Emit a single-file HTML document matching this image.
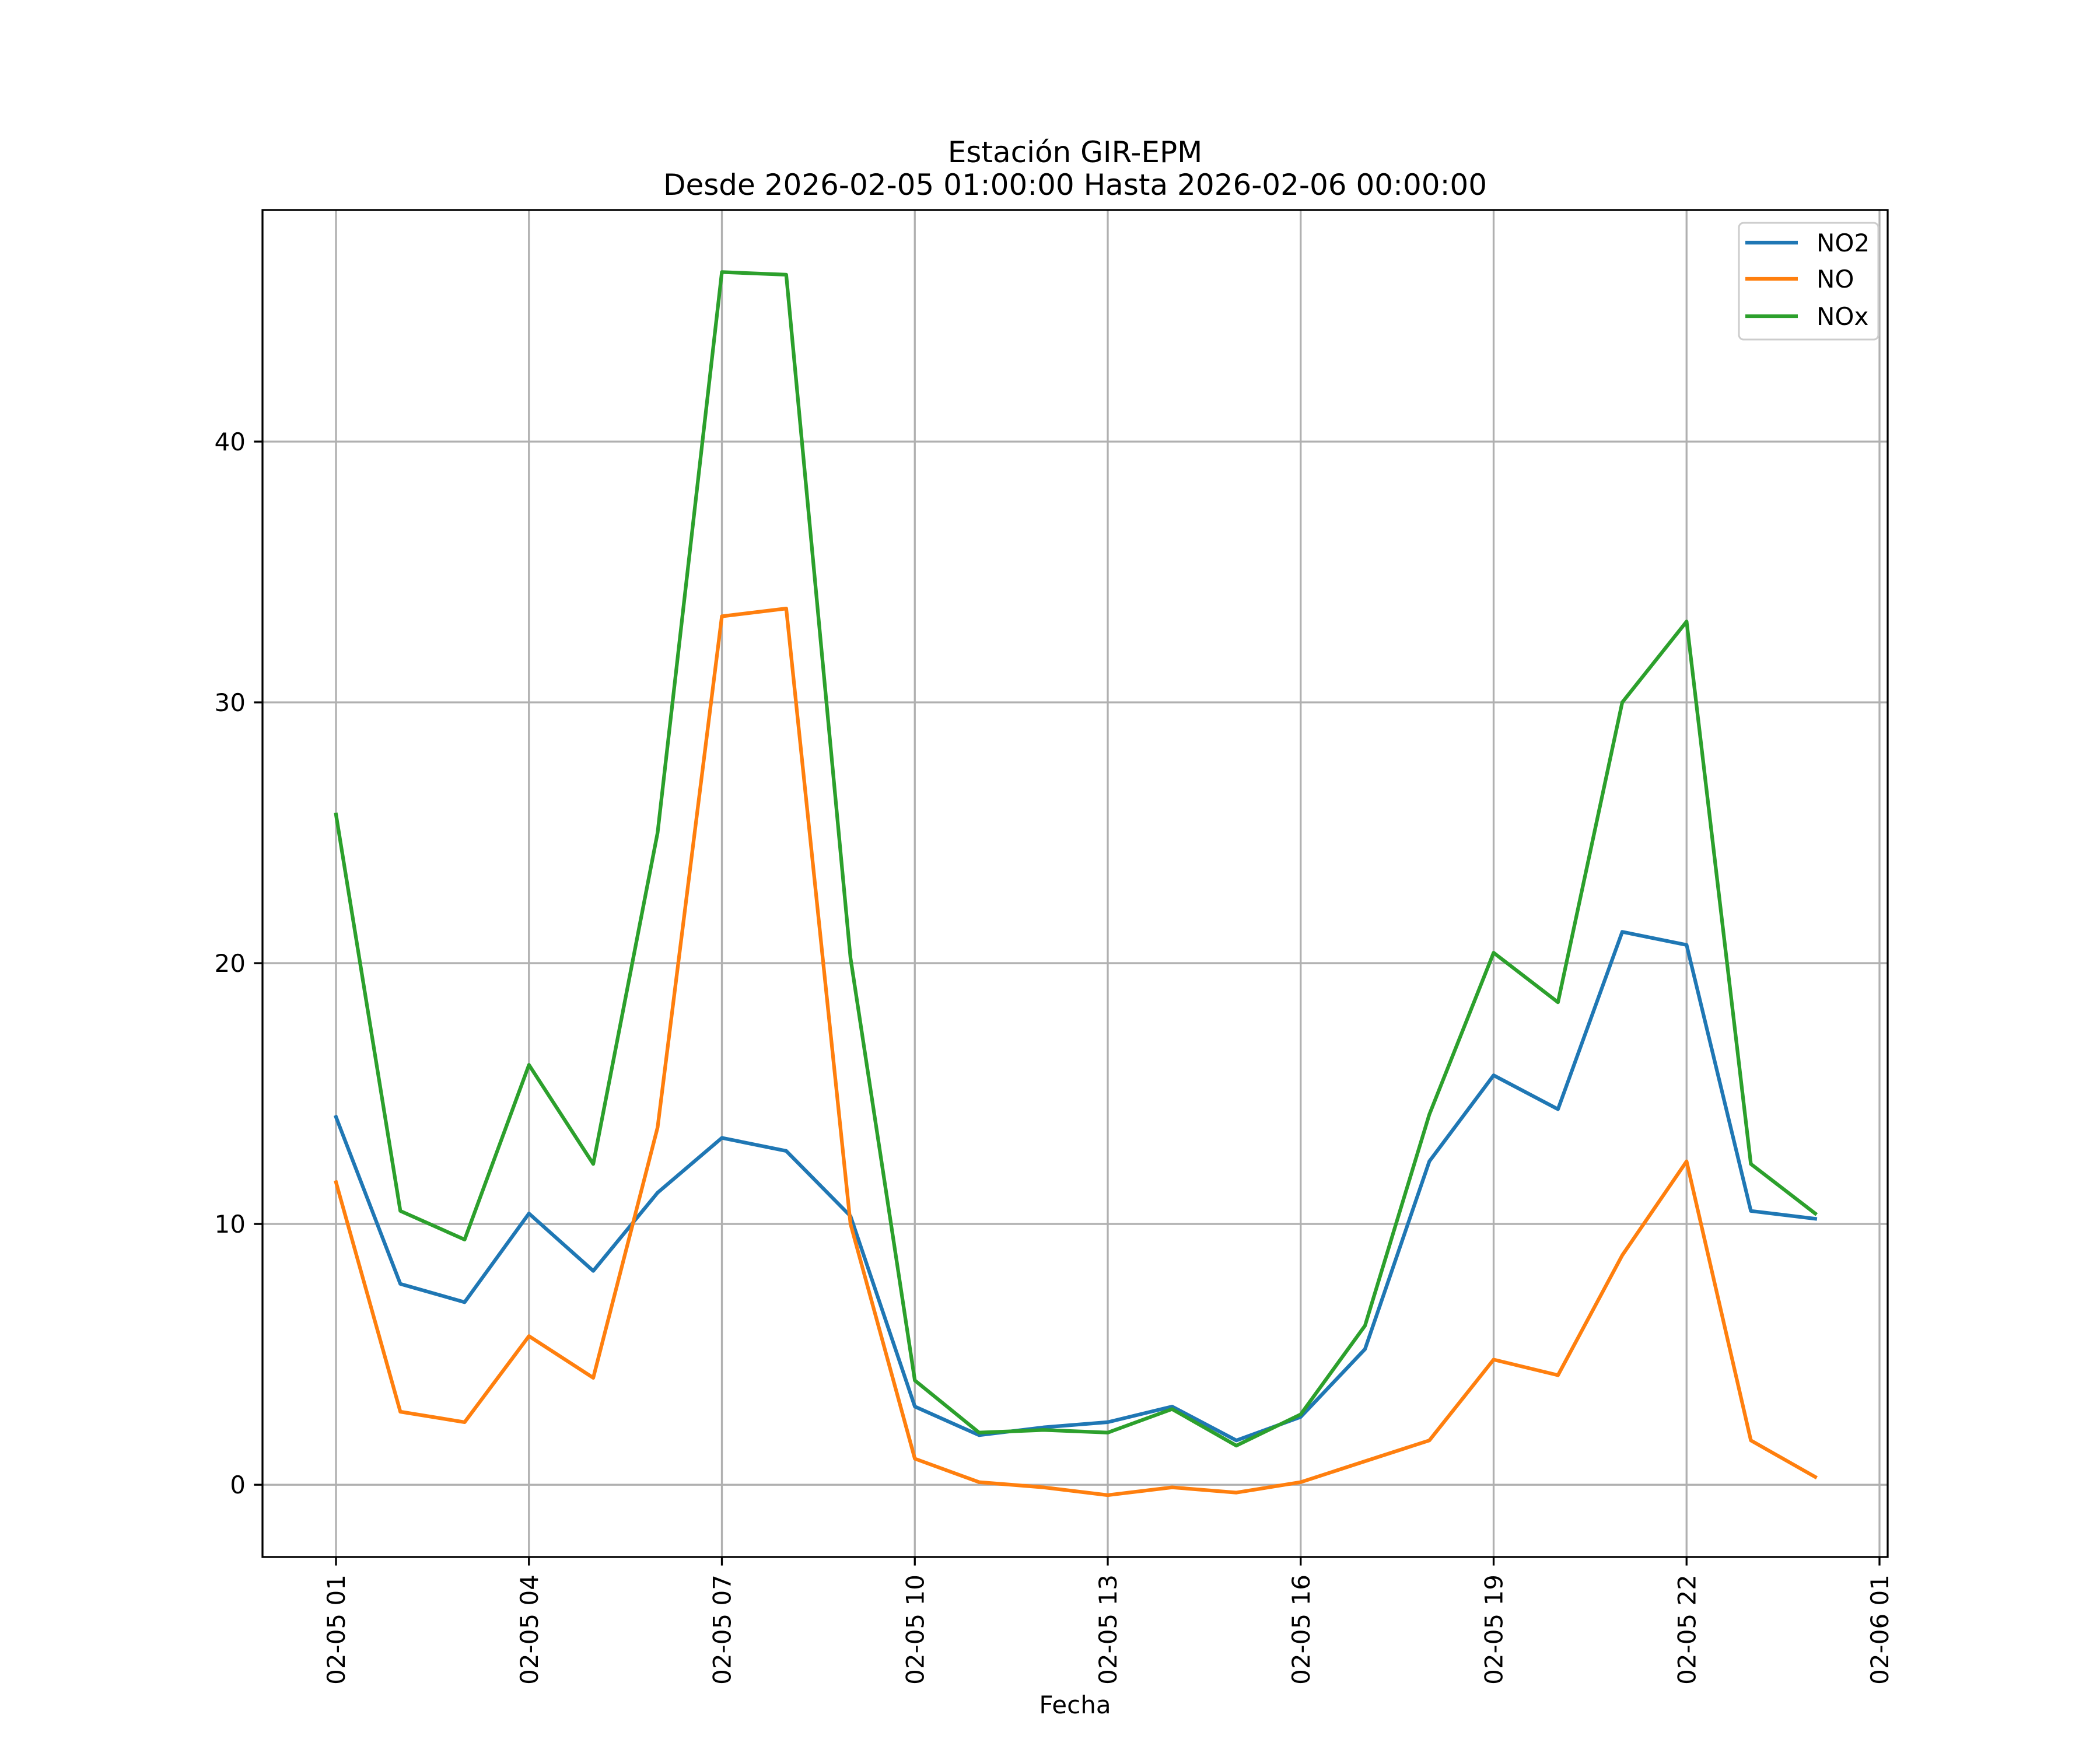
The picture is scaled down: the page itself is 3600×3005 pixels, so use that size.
<!DOCTYPE html>
<html><head><meta charset="utf-8"><style>
html,body{margin:0;padding:0;background:#fff}
svg text{font-family:"DejaVu Sans","Liberation Sans",sans-serif;fill:#000}
</style></head><body>
<svg id="chart" width="3600" height="3000" viewBox="0 0 3600 3000" xmlns="http://www.w3.org/2000/svg">
<rect width="3600" height="3000" fill="#fff"/>
<text x="1843" y="278" font-size="50" text-anchor="middle">Estación GIR-EPM</text>
<text x="1843" y="334" font-size="50" text-anchor="middle">Desde 2026-02-05 01:00:00 Hasta 2026-02-06 00:00:00</text>
<g id="grid"></g>
<g id="series"></g>
<g id="axes"></g>
<text x="1843" y="2937" font-size="42" text-anchor="middle">Fecha</text>
<g>
<rect x="2981" y="382" width="239" height="200" rx="8" fill="#fff" fill-opacity="0.8" stroke="#ccc" stroke-width="3"/>
<line x1="2992" y1="416" x2="3082" y2="416" stroke="#1f77b4" stroke-width="6.25"/>
<text x="3114" y="431" font-size="42">NO2</text>
<line x1="2992" y1="478" x2="3082" y2="478" stroke="#ff7f0e" stroke-width="6.25"/>
<text x="3114" y="493" font-size="42">NO</text>
<line x1="2992" y1="542" x2="3082" y2="542" stroke="#2ca02c" stroke-width="6.25"/>
<text x="3114" y="557" font-size="42">NOx</text>
</g>
</svg>
<script>
const hours = [0,1,2,3,4,5,6,7,8,9,10,11,12,13,14,15,16,17,18,19,20,21,22,23];
const no2 = [14.1,7.7,7.0,10.4,8.2,11.2,13.3,12.8,10.3,3.0,1.9,2.2,2.4,3.0,1.7,2.6,5.2,12.4,15.7,14.4,21.2,20.7,10.5,10.2];
const no = [11.6,2.8,2.4,5.7,4.1,13.7,33.3,33.6,10.0,1.0,0.1,-0.1,-0.4,-0.1,-0.3,0.1,0.9,1.7,4.8,4.2,8.8,12.4,1.7,0.3];
const nox = [25.7,10.5,9.4,16.1,12.3,25.0,46.5,46.4,20.2,4.0,2.0,2.1,2.0,2.9,1.5,2.7,6.1,14.2,20.4,18.5,30.0,33.1,12.3,10.4];
const xTickHours = [0,3,6,9,12,15,18,21,24];
const xTickLabels = ["02-05 01","02-05 04","02-05 07","02-05 10","02-05 13","02-05 16","02-05 19","02-05 22","02-06 01"];
const yTicks = [0,10,20,30,40];

const L=450,R=3236,T=360,B=2669;
const yMin=-2.77,yMax=48.88;
const x0=576, pxPerHour=110.25;
function xs(h){return x0+h*pxPerHour;}
function ys(v){return B-(v-yMin)/(yMax-yMin)*(B-T);}
const NS="http://www.w3.org/2000/svg";
function mk(tag,attrs,parent){const e=document.createElementNS(NS,tag);for(const k in attrs)e.setAttribute(k,attrs[k]);parent.appendChild(e);return e;}
const grid=document.getElementById('grid'),axes=document.getElementById('axes'),series=document.getElementById('series');
xTickHours.forEach((h,i)=>{
  const x=xs(h);
  const g=mk('line',{x1:x,y1:T,x2:x,y2:B,stroke:'#b0b0b0','stroke-width':3.3},grid);
  
  
  const t=mk('line',{x1:x,y1:B,x2:x,y2:B+14.6,stroke:'#000','stroke-width':3.3},axes);
  
  
  const lb=mk('text',{x:0,y:0,'font-size':42,'text-anchor':'end',transform:`translate(${x+15},${B+30}) rotate(-90)`},axes);
  lb.textContent=xTickLabels[i];
  
  
});
yTicks.forEach(v=>{
  const y=ys(v);
  const g=mk('line',{x1:L,y1:y,x2:R,y2:y,stroke:'#b0b0b0','stroke-width':3.3},grid);
  
  
  const t=mk('line',{x1:L-14.6,y1:y,x2:L,y2:y,stroke:'#000','stroke-width':3.3},axes);
  
  
  const lb=mk('text',{x:L-29,y:y+15,'font-size':42,'text-anchor':'end'},axes);
  lb.textContent=String(v);
  
  
});
const frame=mk('rect',{x:L,y:T,width:R-L,height:B-T,fill:'none',stroke:'#000','stroke-width':3.3},axes);


[[no2,'#1f77b4','no2-line'],[no,'#ff7f0e','no-line'],[nox,'#2ca02c','nox-line']].forEach(([d,c,n])=>{
  const pts=d.map((v,i)=>xs(hours[i]).toFixed(1)+','+ys(v).toFixed(1)).join(' ');
  const p=mk('polyline',{points:pts,fill:'none',stroke:c,'stroke-width':6.25,'stroke-linejoin':'round','stroke-linecap':'square'},series);
  
  
});
</script>
</body></html>
